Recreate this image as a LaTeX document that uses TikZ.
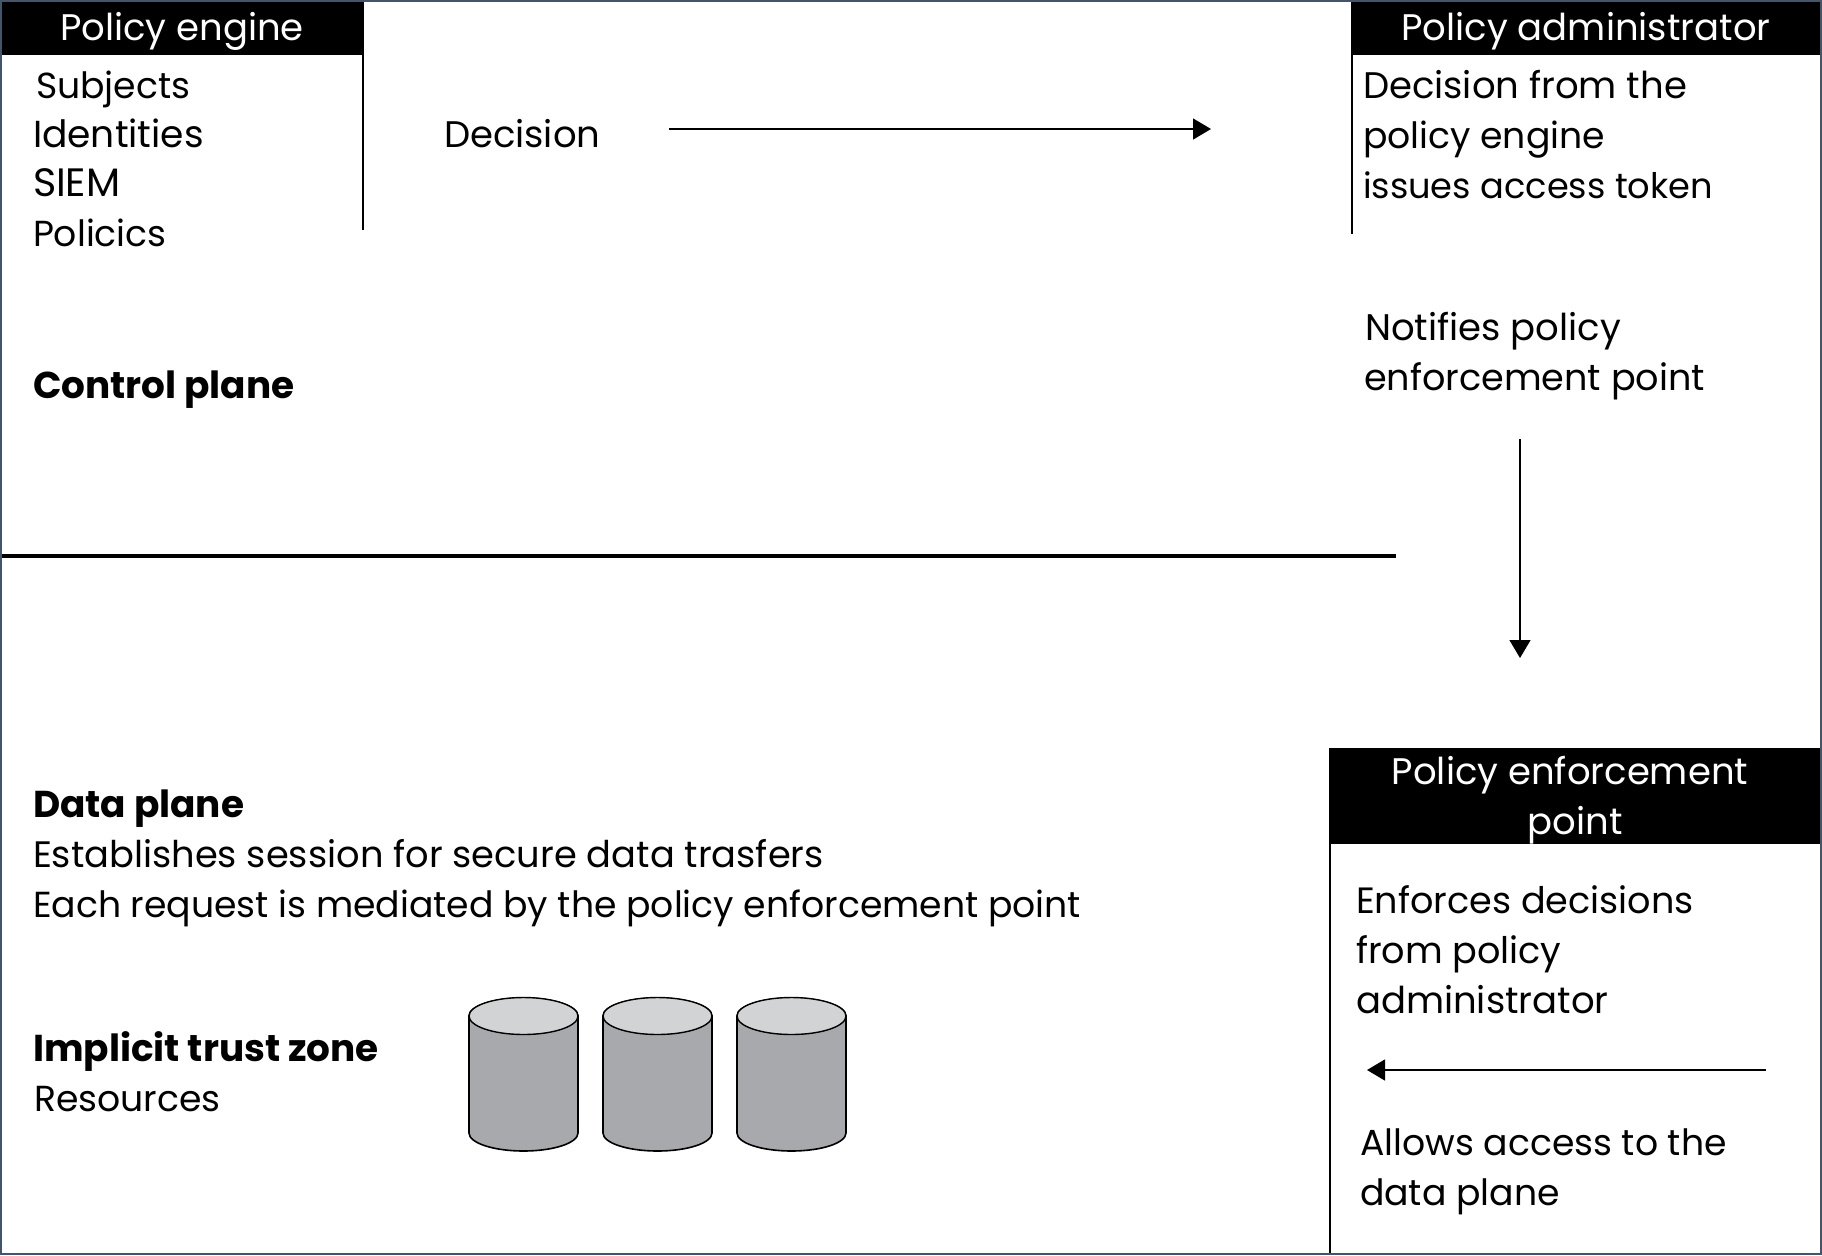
\documentclass[tikz,border=0pt]{standalone}
\usepackage{fontspec}
\setmainfont{Poppins}
\usetikzlibrary{arrows.meta}
\definecolor{frameblue}{HTML}{44546A}
\definecolor{cyltop}{HTML}{D1D3D4}
\definecolor{cylbody}{HTML}{A7A9AC}
\tikzset{
  x=0.5pt,y=-0.5pt,
  base/.style={inner sep=0pt,outer sep=0pt,font=\fontsize{18.1}{25}\selectfont},
  txt/.style={base,anchor=base west,align=left,black},
  sized/.style={font=\fontsize{#1}{25}\selectfont},
  head/.style={base,anchor=base,text=white,align=center,font=\fontsize{18.5}{25}\selectfont},
  bold/.style={txt,font=\fontsize{18.7}{25}\selectfont\bfseries},
  rule/.style={black,line width=0.75pt},
  arr/.style={black,line width=0.7pt,-{Triangle[length=9pt,width=10.5pt]}},
  cylside/.style={fill=cylbody,draw=black,line width=0.8pt},
  cylcap/.style={fill=cyltop,draw=black,line width=0.7pt},
}
\begin{document}
\begin{tikzpicture}
\useasboundingbox (0,0) rectangle (1822,1255);
\fill[white] (0,0) rectangle (1822,1255);
% headers
\fill[black] (1,1) rectangle (363,55);
\fill[black] (1352,1) rectangle (1821,55);
\fill[black] (1330,748) rectangle (1821,844);
\draw[rule] (363,1) -- (363,230);
\draw[rule] (1352,1) -- (1352,234);
\draw[rule] (1330,748) -- (1330,1254);
\draw[black,line width=1.6pt] (1,556) -- (1396,556);
\node[head] (pe) at (182,40) {Policy engine};
\node[head] (pa) at (1586,40) {Policy administrator};
\node[head] (pep1) at (1570,784) {Policy enforcement};
\node[head] (pep2) at (1575,834) {point};
% texts
\node[txt] (subj) at (36,98) {Subjects};
\node[txt,sized=18.8] (ids) at (33,147) {Identities};
\node[txt,sized=19.8] (siem) at (33,196) {SIEM};
\node[txt] (pol) at (33,246) {Policics};
\node[txt,sized=18.5] (dec) at (444,147) {Decision};
\node[txt,sized=18.5] (pa1) at (1363,98) {Decision from the};
\node[txt] (pa2) at (1363,148) {policy engine};
\node[txt,sized=17.6] (pa3) at (1363,198) {issues access token};
\node[txt,sized=18.5] (nt1) at (1365,340) {Notifies policy};
\node[txt,sized=18.3] (nt2) at (1364,390) {enforcement point};
\node[bold] (cp) at (33,398) {Control plane};
\node[bold] (dp) at (33,817) {Data plane};
\node[txt,sized=18.4] (dp1) at (33,867) {Establishes session for secure data trasfers};
\node[txt] (dp2) at (33,917) {Each request is mediated by the policy enforcement point};
\node[bold] (itz) at (33,1061) {Implicit trust zone};
\node[txt] (res) at (34,1111) {Resources};
\node[txt,sized=18.3] (en1) at (1356,913) {Enforces decisions};
\node[txt,sized=18.3] (en2) at (1356,963) {from policy};
\node[txt,sized=18.5] (en3) at (1356,1013) {administrator};
\node[txt] (al1) at (1360,1155) {Allows access to the};
\node[txt] (al2) at (1360,1205) {data plane};
% arrows
\coordinate (a1s) at (669,129); \coordinate (a1e) at (1211,129);
\coordinate (a2s) at (1520,439); \coordinate (a2e) at (1520,658);
\coordinate (a3s) at (1766,1070); \coordinate (a3e) at (1367,1070);
\draw[arr] (a1s) -- (a1e);
\draw[arr] (a2s) -- (a2e);
\draw[arr] (a3s) -- (a3e);
% cylinders
\foreach \xx in {469,603,737}{
  \path[cylside]
    (\xx,1016) -- (\xx,1133) arc[start angle=180,end angle=0,x radius=54.5,y radius=18] -- (\xx+109,1016) arc[start angle=0,end angle=-180,x radius=54.5,y radius=18] -- cycle;
  \path[cylcap] (\xx+54.5,1016) ellipse[x radius=54.5,y radius=18.5];
}
\draw[frameblue,line width=1pt] (0.8,0.8) rectangle (1821.2,1254.2);
\end{tikzpicture}
\end{document}
